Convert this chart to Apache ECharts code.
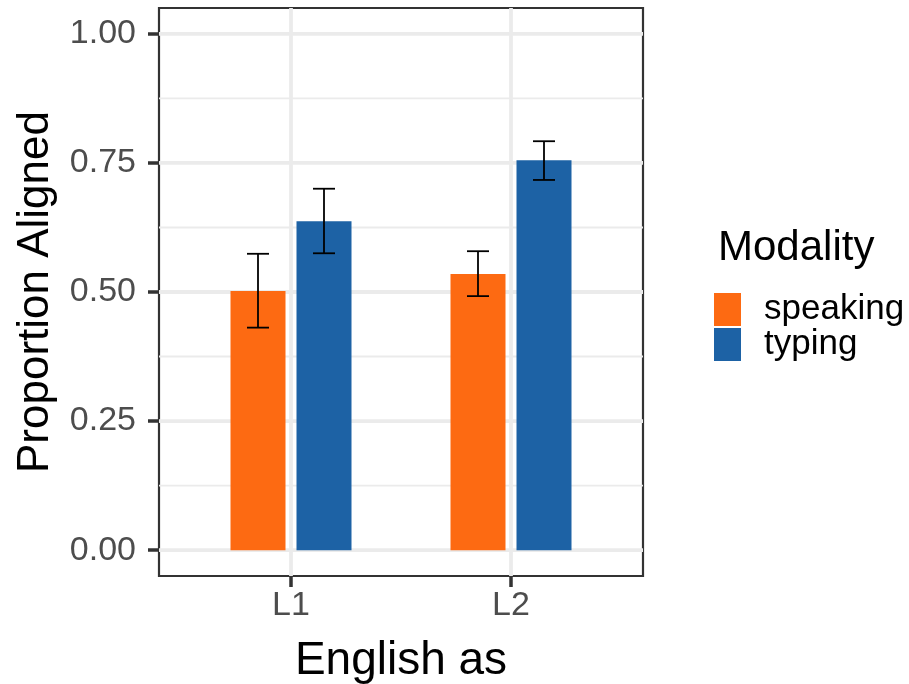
<!DOCTYPE html>
<html>
<head>
<meta charset="utf-8">
<script src="https://cdn.jsdelivr.net/npm/echarts@6/dist/echarts.min.js"></script>
<style>html,body{margin:0;padding:0;background:#fff}#c{width:909px;height:684px}</style>
</head>
<body>
<div id="c"></div>
<script>
var categories = ['L1', 'L2'];
var seriesNames = ['speaking', 'typing'];
var speaking = [0.502, 0.535];
var typing = [0.637, 0.755];
var speakingLow = [0.431, 0.492];
var speakingHigh = [0.574, 0.579];
var typingLow = [0.575, 0.717];
var typingHigh = [0.700, 0.792];
var yTicks = [0, 0.25, 0.5, 0.75, 1];
var yMinor = [0.125, 0.375, 0.625, 0.875];

var colors = ['#FD6A12', '#1D62A5'];
var FONT = 'Liberation Sans, Arial, sans-serif';
var BW = 0.25, DODGE = 0.15, CAP = 0.05;

function barData(vals, lo, hi, off) {
  return vals.map(function (v, i) { return [i + 1 + off, v, lo[i], hi[i]]; });
}

var gridData = [];
yTicks.forEach(function (v) { gridData.push([0, v, 1]); });
yMinor.forEach(function (v) { gridData.push([0, v, 0]); });
categories.forEach(function (c, i) { gridData.push([1, i + 1, 1]); });

function renderGrid(params, api) {
  var kind = api.value(0), v = api.value(1), major = api.value(2);
  var p1, p2;
  if (kind === 0) { p1 = api.coord([0.4, v]); p2 = api.coord([2.6, v]); }
  else { p1 = api.coord([v, -0.05]); p2 = api.coord([v, 1.05]); }
  return {
    type: 'line',
    shape: { x1: p1[0], y1: p1[1], x2: p2[0], y2: p2[1] },
    style: { stroke: '#EBEBEB', lineWidth: major ? 3.8 : 1.9 }
  };
}

function makeBarRender(color) {
  return function (params, api) {
    var x = api.value(0), v = api.value(1), lo = api.value(2), hi = api.value(3);
    var tl = api.coord([x - BW / 2, v]);
    var br = api.coord([x + BW / 2, 0]);
    var eTop = api.coord([x, hi]);
    var eBot = api.coord([x, lo]);
    var cl = api.coord([x - CAP, hi]);
    var cr = api.coord([x + CAP, hi]);
    return {
      type: 'group',
      children: [
        { type: 'rect', shape: { x: tl[0], y: tl[1], width: br[0] - tl[0], height: br[1] - tl[1] }, style: { fill: color } },
        { type: 'line', shape: { x1: eTop[0], y1: eTop[1], x2: eBot[0], y2: eBot[1] }, style: { stroke: '#000', lineWidth: 1.8 } },
        { type: 'line', shape: { x1: cl[0], y1: cl[1], x2: cr[0], y2: cr[1] }, style: { stroke: '#000', lineWidth: 1.8 } },
        { type: 'line', shape: { x1: cl[0], y1: eBot[1], x2: cr[0], y2: eBot[1] }, style: { stroke: '#000', lineWidth: 1.8 } }
      ]
    };
  };
}

var chart = echarts.init(document.getElementById('c'), null, { renderer: 'canvas' });
chart.setOption({
  animation: false,
  backgroundColor: '#fff',
  textStyle: { fontFamily: FONT },
  title: {
    text: 'Modality', left: 713, top: 222,
    textStyle: { fontFamily: FONT, fontSize: 42, fontWeight: 'normal', color: '#000' }
  },
  legend: {
    orient: 'vertical', left: 714, top: 292, itemWidth: 27, itemHeight: 33, itemGap: 0,
    padding: 0, icon: 'rect',
    textStyle: { fontFamily: FONT, fontSize: 35, color: '#000', padding: [0, 0, 0, 18] },
    data: [
      { name: seriesNames[0], itemStyle: { color: colors[0] } },
      { name: seriesNames[1], itemStyle: { color: colors[1] } }
    ]
  },
  grid: {
    left: 159, right: 266, top: 8, bottom: 108,
    outerBoundsMode: 'none', containLabel: false,
    show: true, borderColor: '#333333', borderWidth: 2.2, backgroundColor: 'transparent'
  },
  xAxis: {
    type: 'value', min: 0.4, max: 2.6,
    name: 'English as', nameLocation: 'middle', nameGap: 62,
    nameTextStyle: { fontFamily: FONT, fontSize: 46, color: '#000' },
    axisLine: { show: false, onZero: false },
    axisTick: { show: true, customValues: [1, 2], length: 11, lineStyle: { color: '#333333', width: 3.5 } },
    axisLabel: {
      customValues: [1, 2], margin: 13, fontSize: 34, color: '#4D4D4D', fontFamily: FONT,
      formatter: function (v) { return categories[Math.round(v) - 1]; }
    },
    splitLine: { show: false }
  },
  yAxis: {
    type: 'value', min: -0.05, max: 1.05,
    name: 'Proportion Aligned', nameLocation: 'middle', nameGap: 101,
    nameTextStyle: { fontFamily: FONT, fontSize: 44, color: '#000' },
    axisLine: { show: false, onZero: false },
    axisTick: { show: true, customValues: yTicks, length: 11, lineStyle: { color: '#333333', width: 3.5 } },
    axisLabel: {
      customValues: yTicks, margin: 23, fontSize: 34, color: '#4D4D4D', fontFamily: FONT,
      formatter: function (v) { return v.toFixed(2); }
    },
    splitLine: { show: false }
  },
  series: [
    { type: 'custom', name: 'grid', silent: true, z: 0, renderItem: renderGrid, data: gridData, clip: true },
    { type: 'custom', name: seriesNames[0], z: 2, itemStyle: { color: colors[0] },
      renderItem: makeBarRender(colors[0]), data: barData(speaking, speakingLow, speakingHigh, -DODGE) },
    { type: 'custom', name: seriesNames[1], z: 2, itemStyle: { color: colors[1] },
      renderItem: makeBarRender(colors[1]), data: barData(typing, typingLow, typingHigh, DODGE) }
  ]
});
</script>
</body>
</html>
